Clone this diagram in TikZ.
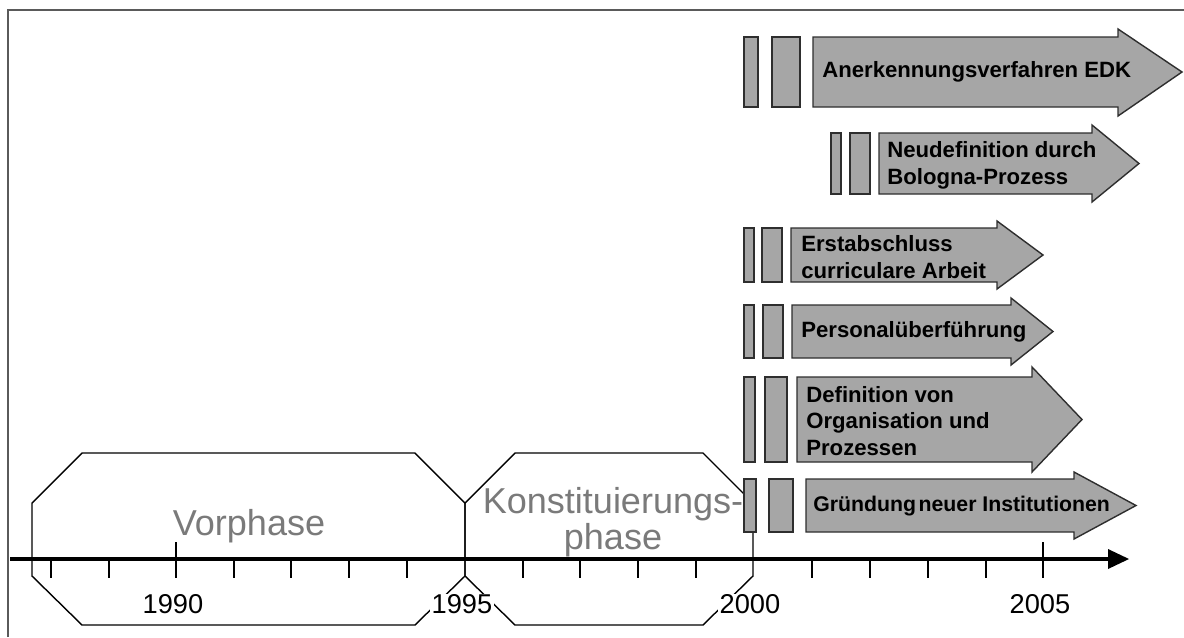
\documentclass[tikz,border=0pt]{standalone}
\usepackage{fontspec}
\setmainfont{Liberation Sans}
\definecolor{barfill}{HTML}{A6A6A6}
\definecolor{barline}{HTML}{2E2E2E}
\definecolor{phasegray}{HTML}{7A7A7A}
\definecolor{framecol}{HTML}{5A5A5A}
\tikzset{
  bar/.style={draw=barline, fill=barfill, line width=0.8pt, line join=miter},
  hexline/.style={draw=black, line width=0.8pt},
  lbl/.style={font=\bfseries\fontsize{12.6}{15.3}\selectfont, anchor=west, align=left, inner sep=0pt},
  yr/.style={font=\fontsize{15.5}{18}\selectfont, fill=white, inner ysep=0pt, inner xsep=1pt},
  phasetxt/.style={font=\fontsize{20.5}{18}\selectfont, text=phasegray, inner sep=0pt, anchor=base},
  minortick/.style={line width=0.8pt},
}
\begin{document}
\begin{tikzpicture}[x=0.02cm,y=-0.02cm]
\useasboundingbox (0,0) rectangle (1184,637);
% frame
\draw[framecol, line width=1.1pt] (8,637) -- (8,10) -- (1184,10);

% phase hexagons
\draw[hexline] (32,503) -- (82,453) -- (415,453) -- (465,503) -- (465,576) -- (415,625) -- (82,625) -- (32,576) -- cycle;
\draw[hexline] (465,503) -- (515,453) -- (703,453) -- (753,503) -- (753,576) -- (703,625) -- (515,625) -- (465,576) -- cycle;

\node[phasetxt] (vor) at (249,535) {Vorphase};
\node[phasetxt] (kon1) at (613,513) {Konstituierungs-};
\node[phasetxt] (kon2) at (613,549) {phase};

% row 1
\draw[bar] (744,37) rectangle (758,107);
\draw[bar] (772,37) rectangle (800,107);
\draw[bar] (813,37) -- (1118,37) -- (1118,29) -- (1182,72) -- (1118,116) -- (1118,107) -- (813,107) -- cycle;
\node[lbl] (t1) at (822,72) {Anerkennungsverfahren EDK};

% row 2
\draw[bar] (831,133) rectangle (841,194);
\draw[bar] (850,133) rectangle (870,194);
\draw[bar] (879,133) -- (1092,133) -- (1092,125) -- (1139,163.5) -- (1092,202) -- (1092,194) -- (879,194) -- cycle;
\node[lbl] (t2) at (887,165) {Neudefinition durch\\Bologna-Prozess};

% row 3
\draw[bar] (744,228) rectangle (754,282);
\draw[bar] (762,228) rectangle (782,282);
\draw[bar] (791,228) -- (997,228) -- (997,221) -- (1043,255) -- (997,289) -- (997,282) -- (791,282) -- cycle;
\node[lbl] (t3) at (801,257) {Erstabschluss\\curriculare Arbeit};

% row 4
\draw[bar] (744,305) rectangle (754,358);
\draw[bar] (763,305) rectangle (783,358);
\draw[bar] (792,305) -- (1011,305) -- (1011,298) -- (1053,331.5) -- (1011,365) -- (1011,358) -- (792,358) -- cycle;
\node[lbl] (t4) at (801,332) {Personalüberführung};

% row 5
\draw[bar] (744,377) rectangle (755,462);
\draw[bar] (765,377) rectangle (787,462);
\draw[bar] (797,377) -- (1032,377) -- (1032,367) -- (1082,419.5) -- (1032,472) -- (1032,462) -- (797,462) -- cycle;
\node[lbl] (t5) at (806,421) {Definition von\\Organisation und\\Prozessen};

% row 6
\draw[bar] (744,479) rectangle (756,532);
\draw[bar] (769,479) rectangle (793,532);
\draw[bar] (806,479) -- (1074,479) -- (1074,472) -- (1136,505.5) -- (1074,539) -- (1074,532) -- (806,532) -- cycle;
\node[lbl, font=\bfseries\fontsize{12.1}{15}\selectfont] (t6) at (813,506) {Gründung\hspace{0.12em}neuer Institutionen};

% axis
\coordinate (axs) at (10,559);
\coordinate (axe) at (1110,559);
\draw[line width=2pt] (axs) -- (axe);
\fill (1108,549) -- (1129,559) -- (1108,569) -- cycle;

% ticks
\foreach \tx in {51,109,234,291,349,407,523,580,638,696,812,870,928,986}
  \draw[minortick] (\tx,559) -- (\tx,578);
\foreach \tx in {176,1043}
  \draw[minortick] (\tx,542) -- (\tx,578);

% year labels
\node[yr] (y1990) at (173,604) {1990};
\node[yr] (y1995) at (462,604) {1995};
\node[yr] (y2000) at (750,604) {2000};
\node[yr] (y2005) at (1040,604) {2005};
\end{tikzpicture}
\end{document}
